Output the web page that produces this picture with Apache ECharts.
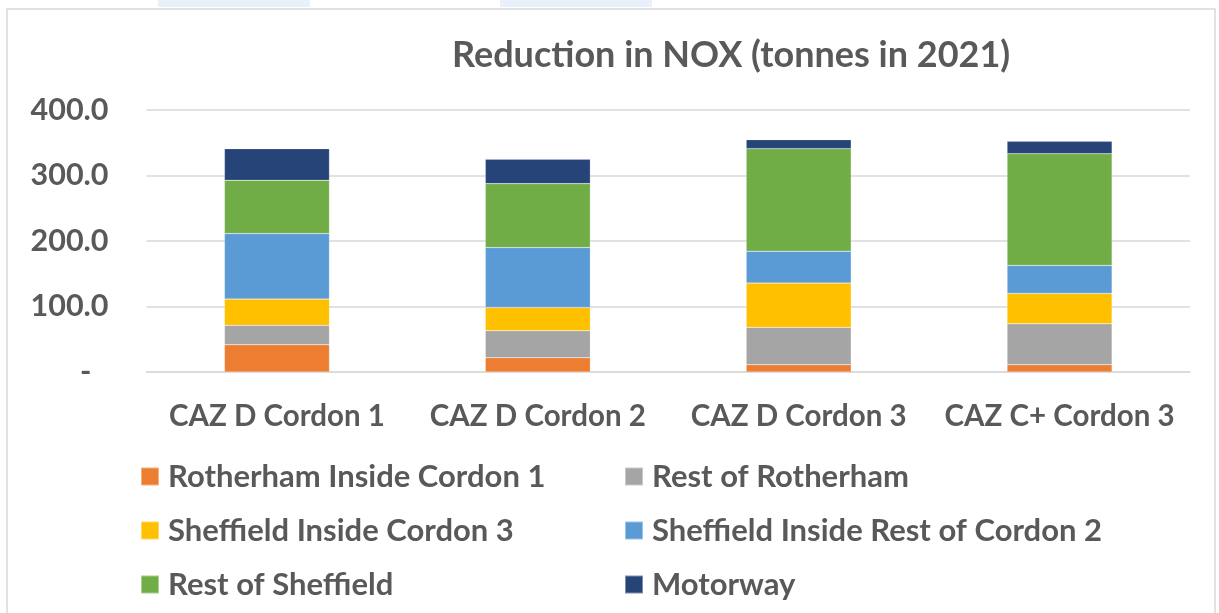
<!DOCTYPE html>
<html>
<head>
<meta charset="utf-8">
<script src="https://cdn.jsdelivr.net/npm/echarts@6/dist/echarts.min.js"></script>
<style>
html,body{margin:0;padding:0;background:#fff;}
#chart{width:1219px;height:613px;}
</style>
</head>
<body>
<div id="chart"></div>
<script>
const categories = ['CAZ D Cordon 1', 'CAZ D Cordon 2', 'CAZ D Cordon 3', 'CAZ C+ Cordon 3'];
const rotherhamInsideCordon1 = [41.6, 21.8, 11.2, 11.2];
const restOfRotherham = [29.6, 41.2, 56.9, 62.4];
const sheffieldInsideCordon3 = [40.1, 35.6, 67.6, 46.4];
const sheffieldInsideRestOfCordon2 = [100.1, 91.5, 48.8, 42.6];
const restOfSheffield = [81.3, 97.5, 156.5, 170.7];
const motorway = [48.3, 37.1, 13.7, 18.8];
const seriesNames = ['Rotherham Inside Cordon 1', 'Rest of Rotherham', 'Sheffield Inside Cordon 3', 'Sheffield Inside Rest of Cordon 2', 'Rest of Sheffield', 'Motorway'];
const seriesData = [rotherhamInsideCordon1, restOfRotherham, sheffieldInsideCordon3, sheffieldInsideRestOfCordon2, restOfSheffield, motorway];
const colors = ['#ED7D31', '#A5A5A5', '#FFC000', '#5B9BD5', '#70AD47', '#264478'];

const FONT = 'Lato';
const TEXT = '#595959';

const chart = echarts.init(document.getElementById('chart'));
const legendText = {fontFamily: FONT, fontWeight: 'bold', fontSize: 31, color: TEXT, padding: [0, 0, 0, 4]};
chart.setOption({
  animation: false,
  color: colors,
  title: {
    text: 'Reduction in NOX (tonnes in 2021)',
    left: 447, top: 32,
    textStyle: {fontFamily: FONT, fontWeight: 'bold', fontSize: 36, color: TEXT}
  },
  graphic: [
    {type: 'rect', shape: {x: 7, y: 9, width: 1208, height: 620}, style: {fill: 'none', stroke: '#D9D9D9', lineWidth: 1.5}, silent: true, z: -1},
    {type: 'rect', shape: {x: 158, y: 0, width: 152, height: 7}, style: {fill: '#E8F0FB'}, silent: true},
    {type: 'rect', shape: {x: 500, y: 0, width: 152, height: 7}, style: {fill: '#E8F0FB'}, silent: true}
  ],
  legend: [
    {orient: 'vertical', left: 140, top: 461, padding: 0, itemWidth: 18, itemHeight: 18, itemGap: 23,
     icon: 'rect', data: [seriesNames[0], seriesNames[2], seriesNames[4]], textStyle: legendText, selectedMode: false},
    {orient: 'vertical', left: 624, top: 461, padding: 0, itemWidth: 18, itemHeight: 18, itemGap: 23,
     icon: 'rect', data: [seriesNames[1], seriesNames[3], seriesNames[5]], textStyle: legendText, selectedMode: false}
  ],
  grid: {left: 146.5, right: 29, top: 110, bottom: 241, containLabel: false},
  xAxis: {
    type: 'category', data: categories,
    axisLine: {show: true, lineStyle: {color: '#D9D9D9', width: 1.5}},
    axisTick: {show: false},
    axisLabel: {interval: 0, margin: 29, fontFamily: FONT, fontWeight: 'bold', fontSize: 29.5, color: TEXT}
  },
  yAxis: {
    type: 'value', min: 0, max: 400, interval: 100,
    axisLine: {show: false}, axisTick: {show: false},
    splitLine: {lineStyle: {color: '#D9D9D9', width: 1.5}},
    axisLabel: {
      margin: 38, fontFamily: FONT, fontWeight: 'bold', fontSize: 30.5, color: TEXT,
      formatter: v => v === 0 ? '{d|-}' : v.toFixed(1),
      rich: {d: {fontFamily: FONT, fontWeight: 'bold', fontSize: 30.5, color: TEXT, padding: [0, 17, 0, 0]}}
    }
  },
  series: seriesData.map((d, i) => ({
    name: seriesNames[i], type: 'bar', stack: 'total', data: d, barWidth: 105,
    itemStyle: {color: colors[i], borderColor: 'rgba(255,255,255,0.4)', borderWidth: 0.5}
  }))
});
</script>
</body>
</html>
